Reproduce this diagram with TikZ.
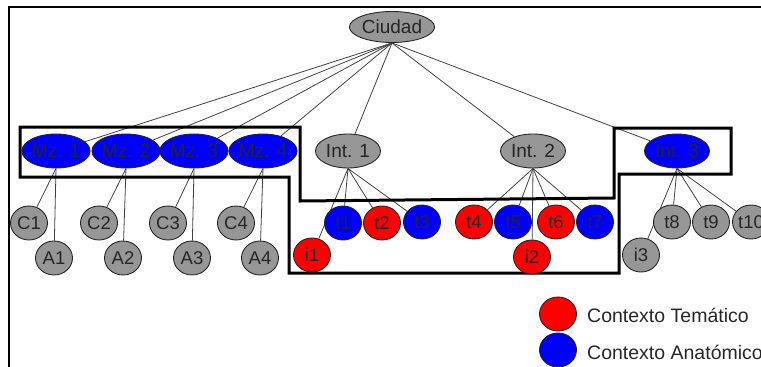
\documentclass[tikz,border=0pt]{standalone}
\usepackage{fontspec}
\setmainfont{Liberation Sans}
\usetikzlibrary{shapes.geometric,backgrounds}
\definecolor{ngray}{RGB}{150,150,150}
\definecolor{nblue}{RGB}{0,0,255}
\definecolor{nred}{RGB}{255,0,0}
\begin{document}
\begin{tikzpicture}[x=1pt,y=-1pt,
  bignode/.style={ellipse, draw=black!85, line width=0.9pt, minimum width=65pt, minimum height=34pt, inner sep=0pt, text=black!85, font=\fontsize{19}{19}\selectfont},
  smallnode/.style={ellipse, draw=black!85, line width=0.9pt, minimum width=37pt, minimum height=34pt, inner sep=0pt, text=black!85, font=\fontsize{18.5}{18.5}\selectfont},
  gn/.style={fill=ngray},
  bn/.style={fill=nblue},
  rn/.style={fill=nred},
  conn/.style={draw=black!75, line width=0.8pt},
  zone/.style={draw=black, line width=3pt, line join=miter},
  legendtext/.style={anchor=west, text=black!85, font=\fontsize{19.5}{19.5}\selectfont, inner sep=0pt}
]
\useasboundingbox (0,0) rectangle (761,367);
% frame
\draw[line width=1.2pt] (9,367) -- (9,7) -- (761,7);

% top
\node[bignode,gn,minimum width=80pt,minimum height=31pt] (ciudad) at (392,27) {Ciudad};
% level 1
\node[bignode,bn] (mz1) at (56,151) {Mz. 1};
\node[bignode,bn] (mz2) at (126,151) {Mz. 2};
\node[bignode,bn] (mz3) at (194,151) {Mz. 3};
\node[bignode,bn] (mz4) at (263,151) {Mz. 4};
\node[bignode,gn] (int1) at (348,151) {Int. 1};
\node[bignode,gn] (int2) at (533,151) {Int. 2};
\node[bignode,bn] (int3) at (677,151) {Int. 3};
% level 2
\node[smallnode,gn] (c1) at (29,223) {C1};
\node[smallnode,gn] (c2) at (99,223) {C2};
\node[smallnode,gn] (c3) at (168,223) {C3};
\node[smallnode,gn] (c4) at (236,223) {C4};
\node[smallnode,gn] (a1) at (54,258) {A1};
\node[smallnode,gn] (a2) at (123,258) {A2};
\node[smallnode,gn] (a3) at (192,258) {A3};
\node[smallnode,gn] (a4) at (260,258) {A4};
\node[smallnode,bn] (t1) at (343,223) {t1};
\node[smallnode,rn] (t2) at (382,223) {t2};
\node[smallnode,bn] (t3) at (422,222) {t3};
\node[smallnode,rn] (t4) at (474,222) {t4};
\node[smallnode,bn] (t5) at (513,222) {t5};
\node[smallnode,rn] (t6) at (556,222) {t6};
\node[smallnode,bn] (t7) at (595,222) {t7};
\node[smallnode,rn] (i1) at (312,255) {i1};
\node[smallnode,rn] (i2) at (532,257) {i2};
\node[smallnode,gn] (i3) at (641,255) {i3};
\node[smallnode,gn] (t8) at (672,222) {t8};
\node[smallnode,gn] (t9) at (711,222) {t9};
\node[smallnode,gn] (t10) at (751,222) {t10};
% legend
\node[smallnode,rn] (legr) at (558,314) {};
\node[smallnode,bn] (legb) at (558,350) {};
\node[legendtext] (legrt) at (587,315) {Contexto Temático};
\node[legendtext] (legbt) at (587,352) {Contexto Anatómico};

\begin{pgfonlayer}{background}
  \foreach \n in {mz1,mz2,mz3,mz4,int1,int2,int3}
    \draw[conn] (ciudad.south) -- (\n);
  \foreach \k in {1,2,3,4} {
    \draw[conn] (mz\k.south) -- (c\k);
    \draw[conn] (mz\k.south) -- (a\k);
  }
  \foreach \n in {t1,t2,t3,i1}
    \draw[conn] (int1.south) -- (\n);
  \foreach \n in {t4,t5,t6,t7,i2}
    \draw[conn] (int2.south) -- (\n);
  \foreach \n in {t8,t9,t10,i3}
    \draw[conn] (int3.south) -- (\n);
  \draw[zone] (20,127) -- (300,127) -- (300,201) -- (614,198) -- (614,128)
    -- (731,128) -- (731,174) -- (619,174) -- (619,273) -- (289,273)
    -- (289,177) -- (20,177) -- cycle;
\end{pgfonlayer}
\end{tikzpicture}
\end{document}
